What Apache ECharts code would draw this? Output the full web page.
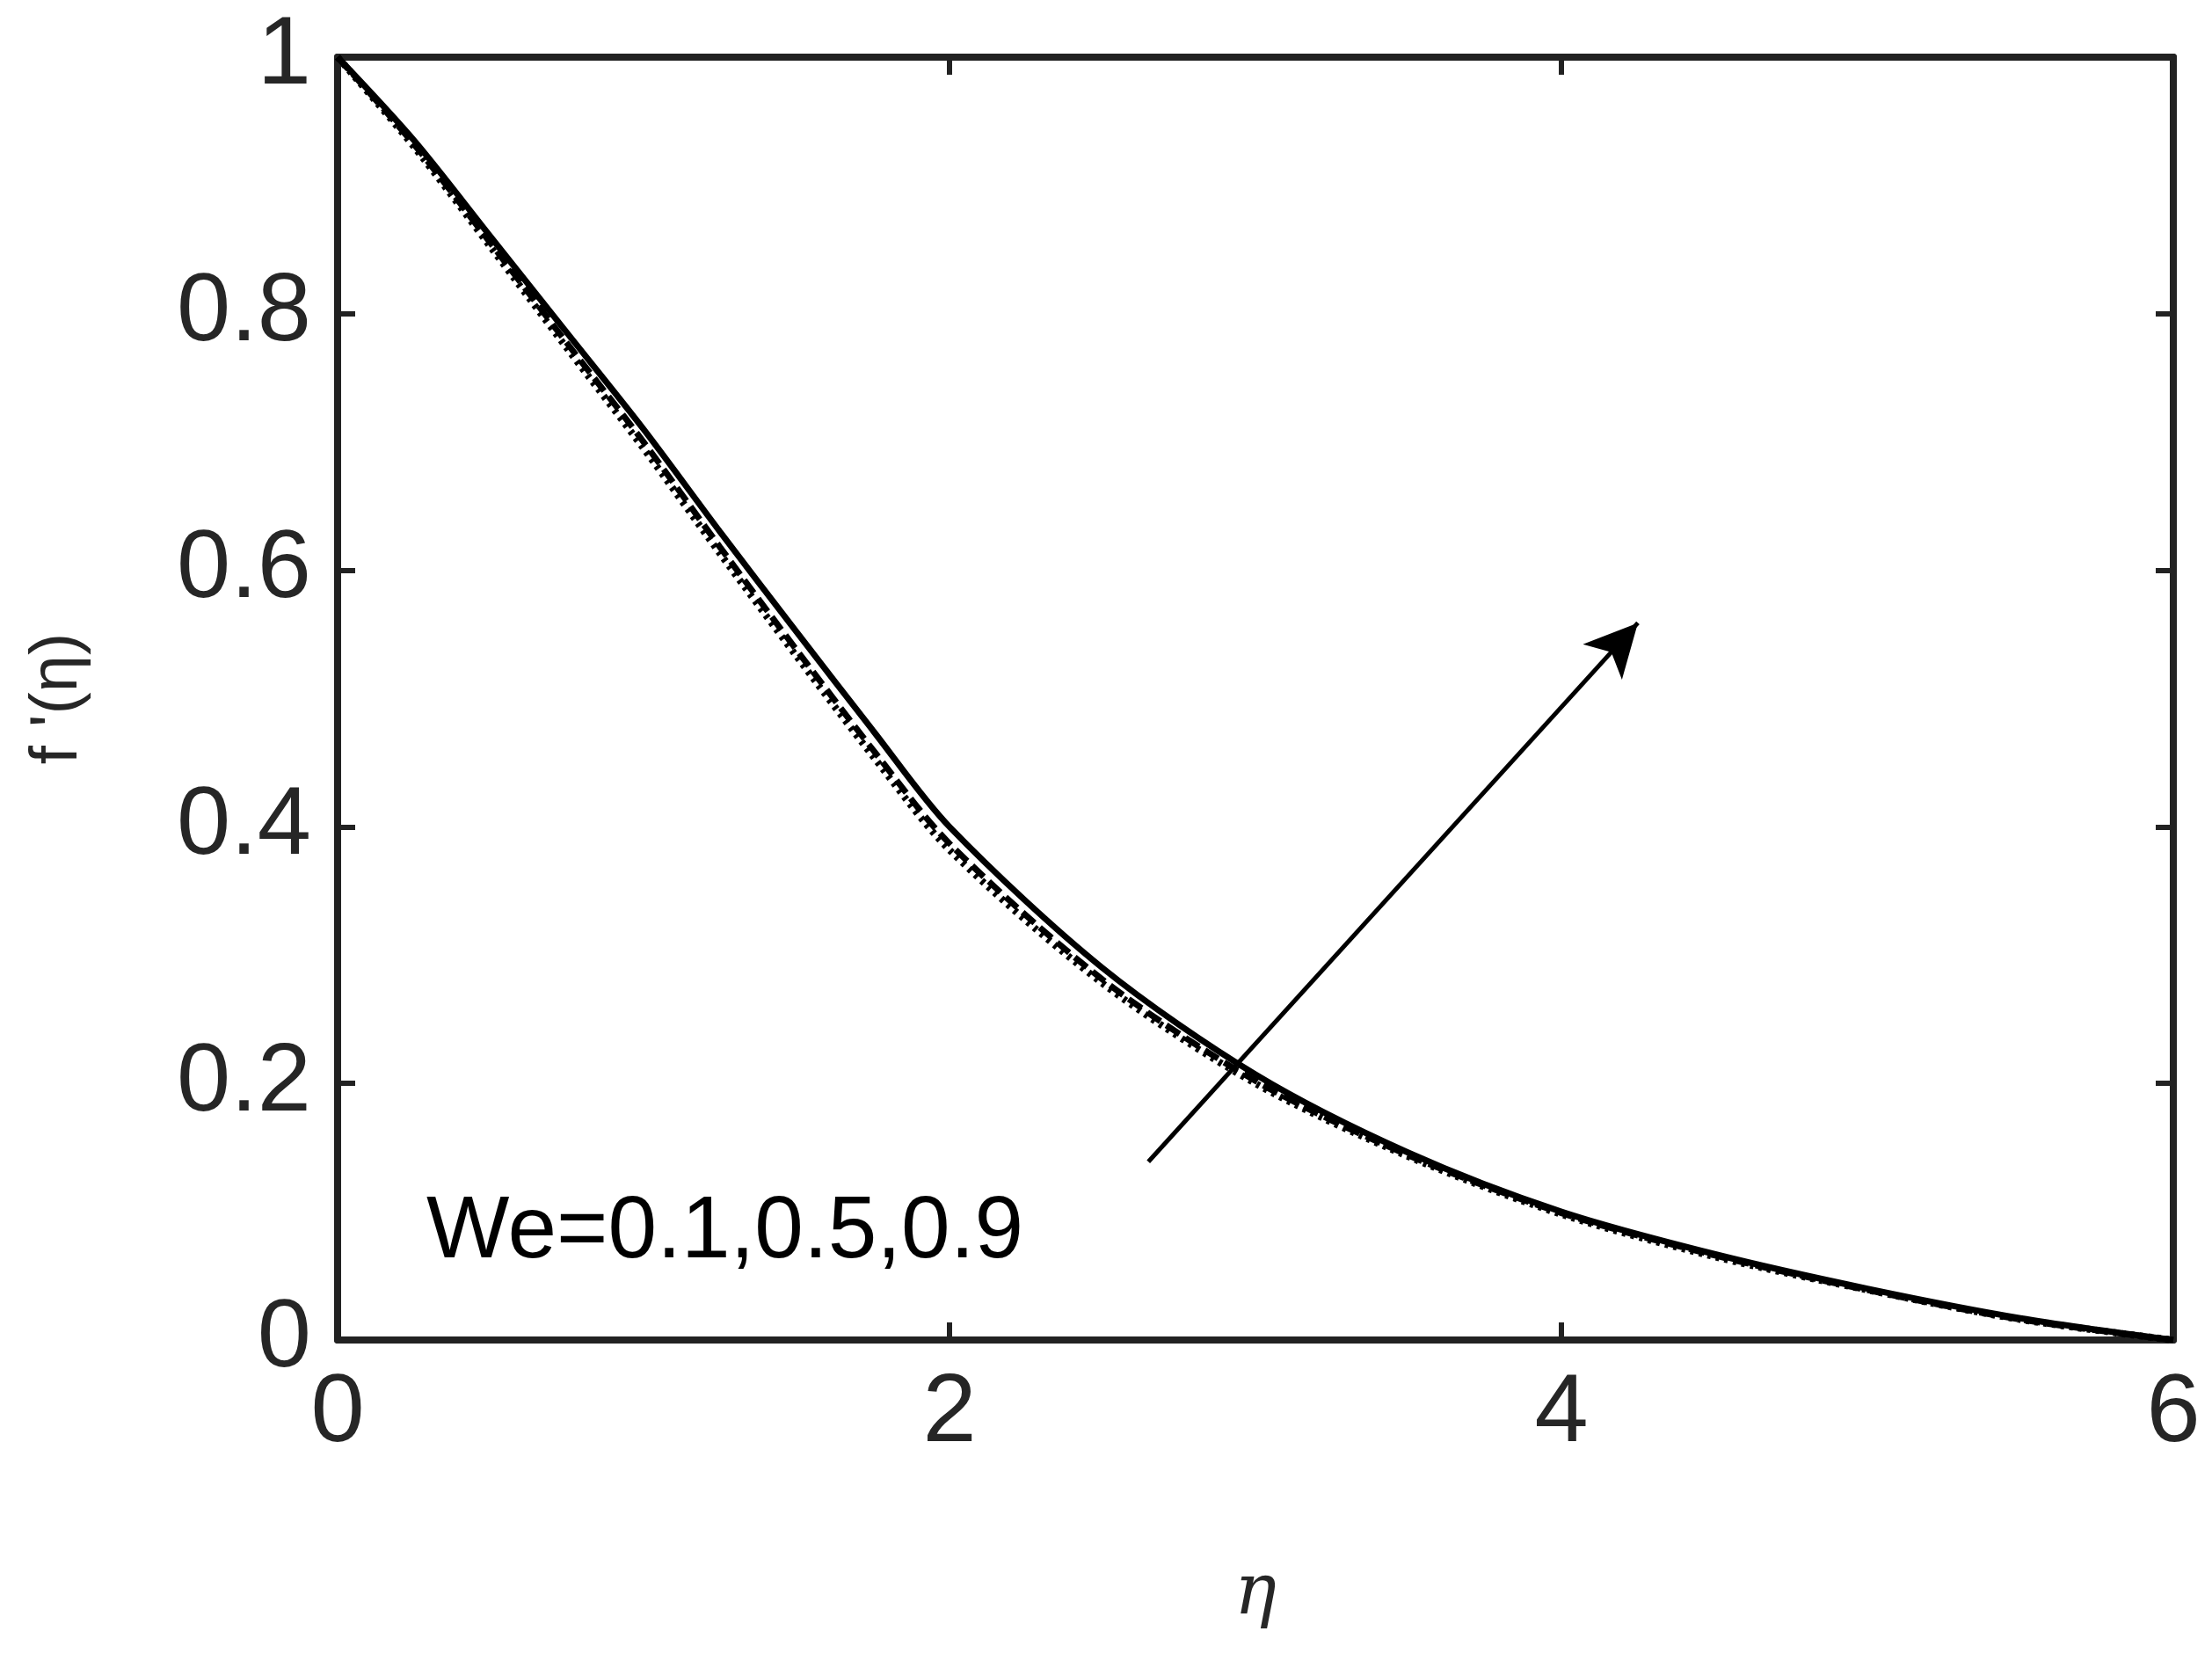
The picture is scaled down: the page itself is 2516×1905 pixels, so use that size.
<!DOCTYPE html>
<html><head><meta charset="utf-8">
<script src="https://cdn.jsdelivr.net/npm/echarts@6/dist/echarts.min.js"></script>
<style>html,body{margin:0;background:#fff}#c{width:2516px;height:1905px}</style>
</head><body><div id="c"></div>
<script>
const eta = [0,0.25,0.5,0.75,1,1.25,1.5,1.75,2,2.5,3,3.5,4,4.5,5,5.5,6];
const solid  = [1,0.935,0.86,0.785,0.71,0.63,0.552,0.475,0.40,0.29,0.207,0.146,0.10,0.067,0.04,0.017,0];
const dashed = [1,0.932,0.855,0.777,0.70,0.618,0.538,0.460,0.387,0.281,0.202,0.144,0.099,0.066,0.039,0.016,0];
const dotted = [1,0.93,0.852,0.773,0.695,0.613,0.533,0.455,0.382,0.278,0.200,0.143,0.098,0.065,0.039,0.016,0];
const xTicks = [0,2,4,6];
const yTicks = [0,0.2,0.4,0.6,0.8,1];
const arrow = [[2.65,0.139],[4.25,0.559]];
const label = 'We=0.1,0.5,0.9';
const pair = a => eta.map((x,i)=>[x,a[i]]);
const ax = {color:'#262626',fontFamily:'Liberation Sans, Arial',fontSize:110};
const line = {onZero:false,lineStyle:{color:'#222',width:8}};
const tick = {show:true,inside:true,length:20,lineStyle:{color:'#222',width:6}};
const chart = echarts.init(document.getElementById('c'));
chart.setOption({
  animation:false,
  grid:{left:384,right:44,top:65,bottom:381},
  xAxis:[
    {type:'value',min:0,max:6,interval:2,axisLine:line,axisTick:tick,splitLine:{show:false},
     axisLabel:{...ax,margin:30},name:'η',nameLocation:'middle',nameGap:250,
     nameTextStyle:{color:'#262626',fontFamily:'DejaVu Serif',fontStyle:'italic',fontSize:80}},
    {type:'value',position:'top',min:0,max:6,interval:2,axisLine:line,axisTick:tick,axisLabel:{show:false},splitLine:{show:false}}
  ],
  yAxis:[
    {type:'value',min:0,max:1,interval:0.2,axisLine:line,axisTick:tick,splitLine:{show:false},
     axisLabel:{...ax,margin:30,formatter:v=>String(+v.toFixed(1))},name:"f '(η)",nameLocation:'middle',nameGap:280,
     nameTextStyle:{color:'#262626',fontFamily:'Liberation Sans',fontSize:76}},
    {type:'value',position:'right',min:0,max:1,interval:0.2,axisLine:line,axisTick:tick,axisLabel:{show:false},splitLine:{show:false}}
  ],
  series:[
    {type:'line',data:pair(solid),smooth:0.3,symbol:'none',lineStyle:{color:'#000',width:7}},
    {type:'line',data:pair(dashed),smooth:0.3,symbol:'none',lineStyle:{color:'#000',width:7,type:[18,8]}},
    {type:'line',data:pair(dotted),smooth:0.3,symbol:'none',lineStyle:{color:'#000',width:8,type:[4,6]},
     markLine:{silent:true,symbol:['none','arrow'],symbolSize:[45,60],label:{show:false},
       lineStyle:{color:'#000',width:5,type:'solid'},
       data:[[{coord:arrow[0]},{coord:arrow[1]}]]},
     markPoint:{silent:true,symbol:'circle',symbolSize:0,
       data:[{coord:[0.29,0.083],label:{show:true,position:'right',distance:0,formatter:label,color:'#000',fontFamily:'Liberation Sans',fontSize:100}}]}}
  ]
});
</script></body></html>
